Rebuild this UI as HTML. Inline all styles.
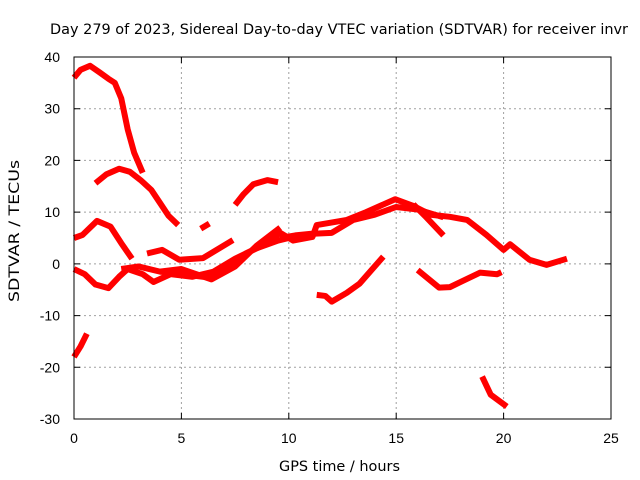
<!DOCTYPE html>
<html><head><meta charset="utf-8"><style>
body{margin:0;background:#fff}
svg{display:block;font-family:"Liberation Sans",sans-serif}
</style></head><body>
<svg id="chart" width="640" height="480">
<rect width="640" height="480" fill="#fff"/>
<g id="grid"></g>
<g id="series"></g>
<rect x="74" y="57" width="537" height="362" fill="none" stroke="#000" stroke-width="1"/>
<g id="ticks"></g>
<text x="50" y="34" textLength="578" lengthAdjust="spacingAndGlyphs" font-size="14" style="font-family:'DejaVu Sans',sans-serif">Day 279 of 2023, Sidereal Day-to-day VTEC variation (SDTVAR) for receiver invr</text>
<text x="279" y="471" textLength="121" lengthAdjust="spacingAndGlyphs" font-size="14" style="font-family:'DejaVu Sans',sans-serif">GPS time / hours</text>
<text x="0" y="0" transform="translate(19,302) rotate(-90)" textLength="142" lengthAdjust="spacingAndGlyphs" font-size="14" style="font-family:'DejaVu Sans',sans-serif">SDTVAR / TECUs</text>
</svg>
<script>
const xTicks=[0,5,10,15,20,25];
const yTicks=[40,30,20,10,0,-10,-20,-30];
const segA=[[0,36],[0.3,37.5],[0.75,38.3],[1.2,37],[1.6,35.8],[1.9,35],[2.2,32],[2.5,26],[2.8,21.5],[3.2,17.6]];
const segB=[[1,15.6],[1.5,17.3],[2.1,18.4],[2.6,17.8],[3.1,16.2],[3.6,14.3],[4,11.8],[4.4,9.3],[4.85,7.5]];
const segC=[[0,5],[0.4,5.6],[1.07,8.3],[1.7,7.2],[2.2,4],[2.7,1]];
const segD=[[0,-1],[0.5,-2],[1,-4],[1.6,-4.7],[2.1,-2.5],[2.5,-1],[3.2,-2],[3.7,-3.5],[4.5,-2],[5.5,-2.5],[6.5,-1.5],[7.5,1],[8.5,3],[9.5,4.5],[10,5]];
const segE=[[2.2,-1],[3,-0.5],[4,-1.5],[5,-2],[6,-2.5],[7,-1],[8,2],[9,4],[9.6,6],[10.2,4.5],[11.1,5.2],[11.3,7.5],[12.7,8.5],[13.6,10],[14.95,12.5],[15.8,11.2],[16.6,9.5],[17.5,9.1],[18.3,8.5],[19.2,5.6],[20,2.7],[20.3,3.8],[21.2,0.8],[22,-0.2],[22.95,1]];
const segE2=[[9.6,5],[10.3,5.5],[11,5.8],[12,6],[13,8.5],[14,9.5],[15,11],[16,10.5],[17.2,9]];
const segF=[[3.4,2],[4.1,2.7],[4.9,0.8],[6,1.1],[7.4,4.6]];
const segG=[[4,-1.5],[5,-1],[6.4,-3],[7.5,-0.5],[8.5,3.5],[9.6,7]];
const segBlob=[[5.9,6.8],[6.3,7.8]];
const segH=[[7.5,11.4],[7.9,13.5],[8.35,15.4],[9,16.2],[9.5,15.8]];
const segI=[[0,-18],[0.3,-16],[0.6,-13.5]];
const segJ=[[11.3,-6],[11.7,-6.2],[12,-7.3],[12.7,-5.6],[13.3,-3.8],[14.4,1.4]];
const segK=[[16,-1.2],[17,-4.6],[17.5,-4.5],[18,-3.5],[18.9,-1.7],[19.7,-2],[19.9,-1.6]];
const segL=[[19,-21.8],[19.4,-25.3],[20.15,-27.6]];
const segBranch=[[15.8,11.5],[16.4,9],[17.2,5.5]];
const allSegs=[segA,segB,segC,segD,segE,segE2,segF,segG,segBlob,segH,segI,segJ,segK,segL,segBranch];

const X0=74,X1=611,Y0=419,Y1=57;
function sx(h){return X0+(h-0)/(25-0)*(X1-X0);}
function sy(v){return Y0-(v-(-30))/(40-(-30))*(Y0-Y1);}
const NS="http://www.w3.org/2000/svg";
const grid=document.getElementById('grid'),ticks=document.getElementById('ticks'),series=document.getElementById('series');
xTicks.forEach(t=>{
  const x=sx(t);
  if(t>0&&t<25){const l=document.createElementNS(NS,'line');
  l.setAttribute('x1',x);l.setAttribute('x2',x);l.setAttribute('y1',Y1);l.setAttribute('y2',Y0);
  l.setAttribute('stroke','#a0a0a0');l.setAttribute('stroke-dasharray','2,3');
  
  grid.appendChild(l);}
  const tk=document.createElementNS(NS,'path');
  tk.setAttribute('d',`M${x},${Y0}v-6M${x},${Y1}v6`);tk.setAttribute('stroke','#000');
  
  ticks.appendChild(tk);
  const tx=document.createElementNS(NS,'text');
  tx.setAttribute('x',x);tx.setAttribute('y',Y0+24);tx.setAttribute('text-anchor','middle');tx.setAttribute('font-size','14');
  tx.textContent=t;
  
  ticks.appendChild(tx);
});
yTicks.forEach(t=>{
  const y=sy(t);
  if(t>-30&&t<40){const l=document.createElementNS(NS,'line');
  l.setAttribute('x1',X0);l.setAttribute('x2',X1);l.setAttribute('y1',y);l.setAttribute('y2',y);
  l.setAttribute('stroke','#a0a0a0');l.setAttribute('stroke-dasharray','2,3');
  
  grid.appendChild(l);}
  const tk=document.createElementNS(NS,'path');
  tk.setAttribute('d',`M${X0},${y}h6M${X1},${y}h-6`);tk.setAttribute('stroke','#000');
  
  ticks.appendChild(tk);
  const tx=document.createElementNS(NS,'text');
  tx.setAttribute('x',X0-14);tx.setAttribute('y',y+5);tx.setAttribute('text-anchor','end');tx.setAttribute('font-size','14');
  tx.textContent=t;
  
  ticks.appendChild(tx);
});
allSegs.forEach((seg,i)=>{
  const p=document.createElementNS(NS,'polyline');
  p.setAttribute('points',seg.map(d=>sx(d[0])+','+sy(d[1])).join(' '));
  p.setAttribute('fill','none');p.setAttribute('stroke','#ff0000');p.setAttribute('stroke-width','6');
  p.setAttribute('stroke-linejoin','round');p.setAttribute('stroke-linecap','butt');
  
  
  series.appendChild(p);
});
</script>
</body></html>
